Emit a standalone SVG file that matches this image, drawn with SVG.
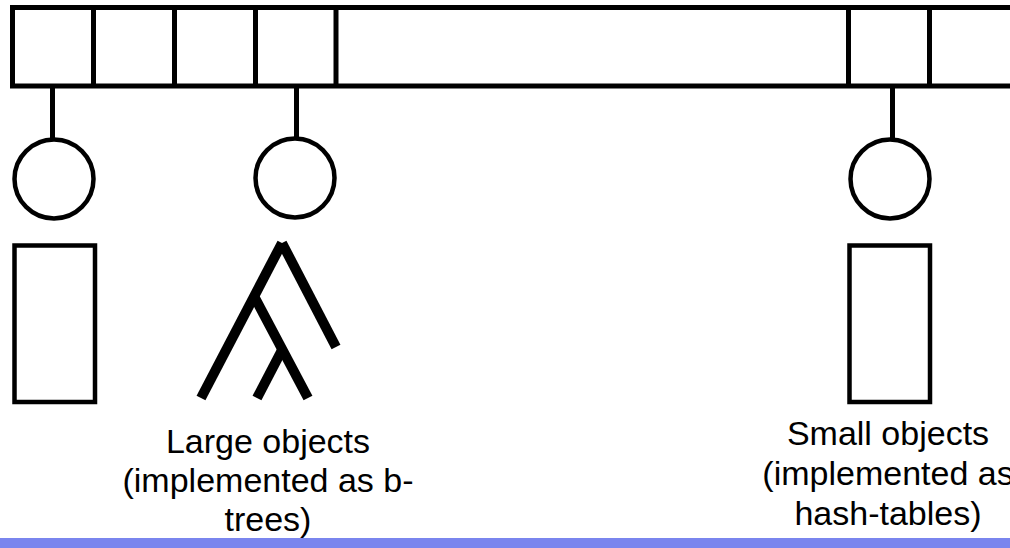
<svg xmlns="http://www.w3.org/2000/svg" width="1010" height="548" viewBox="0 0 1010 548">
  <style>
    .ln { fill: none; stroke: #000; }
    .array { stroke-width: 5; }
    .stem { stroke-width: 5; }
    .ring { stroke-width: 4.5; fill: #fff; }
    .bucket { stroke-width: 4.5; fill: #fff; }
    .tree { stroke-width: 10; stroke-linecap: butt; }
    .lbl { font-family: "Liberation Sans", Arial, sans-serif; font-size: 34px; fill: #000; text-anchor: middle; }
  </style>
  <rect width="1010" height="548" fill="#fff"/>

  <!-- hash array of slots -->
  <g id="array">
    <rect class="ln array" x="12.5" y="7.5" width="1005" height="78.5"/>
    <line class="ln array" x1="93.5" y1="7.5" x2="93.5" y2="86"/>
    <line class="ln array" x1="174.5" y1="7.5" x2="174.5" y2="86"/>
    <line class="ln array" x1="255.5" y1="7.5" x2="255.5" y2="86"/>
    <line class="ln array" x1="336" y1="7.5" x2="336" y2="86"/>
    <line class="ln array" x1="848.5" y1="7.5" x2="848.5" y2="86"/>
    <line class="ln array" x1="929.5" y1="7.5" x2="929.5" y2="86"/>
  </g>

  <!-- links from slots to object headers -->
  <g id="connectors">
    <line class="ln stem" x1="52.5" y1="88" x2="52.5" y2="139"/>
    <line class="ln stem" x1="296.5" y1="88" x2="296.5" y2="138"/>
    <line class="ln stem" x1="892.5" y1="88" x2="892.5" y2="139"/>
  </g>

  <!-- object headers -->
  <g id="head-left">
    <circle class="ln ring" cx="54" cy="179" r="39.5"/>
  </g>
  <g id="head-mid">
    <circle class="ln ring" cx="295" cy="178" r="39.5"/>
  </g>
  <g id="head-right">
    <circle class="ln ring" cx="890" cy="179" r="39.5"/>
  </g>

  <!-- object bodies -->
  <g id="body-left">
    <rect class="ln bucket" x="14.5" y="245.5" width="80.5" height="156.5"/>
  </g>
  <g id="body-tree">
    <line class="ln tree" x1="282" y1="243" x2="201" y2="398"/>
    <line class="ln tree" x1="282" y1="243" x2="336" y2="347"/>
    <line class="ln tree" x1="254" y1="296" x2="308" y2="398"/>
    <line class="ln tree" x1="282" y1="350" x2="257" y2="398"/>
  </g>
  <g id="body-right">
    <rect class="ln bucket" x="849.5" y="245.5" width="80.5" height="156.5"/>
  </g>

  <!-- footer band -->
  <rect x="0" y="538" width="1010" height="10" fill="#7a85ee"/>

  <g id="label-large">
    <text class="lbl" x="268" y="453">Large objects</text>
    <text class="lbl" x="268" y="492">(implemented as b-</text>
    <text class="lbl" x="268" y="531">trees)</text>
  </g>
  <g id="label-small">
    <text class="lbl" x="888" y="445">Small objects</text>
    <text class="lbl" x="888" y="485">(implemented as</text>
    <text class="lbl" x="888" y="525">hash-tables)</text>
  </g>
</svg>
